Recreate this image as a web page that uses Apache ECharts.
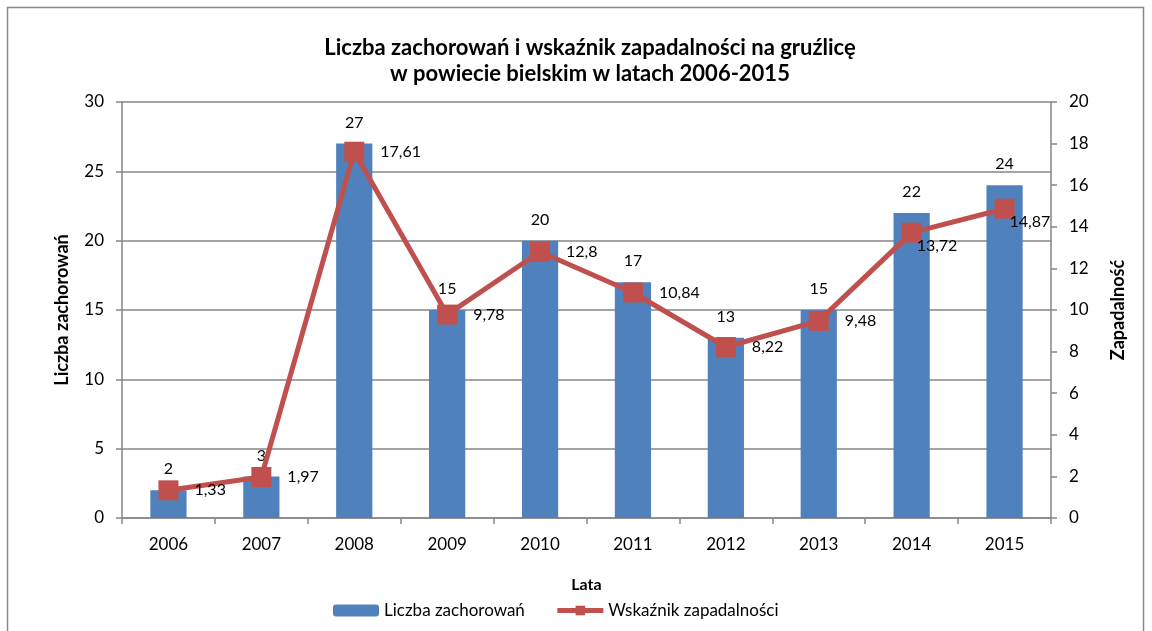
<!DOCTYPE html>
<html>
<head>
<meta charset="utf-8">
<script src="https://cdn.jsdelivr.net/npm/echarts@6/dist/echarts.min.js"></script>
<style>
  html, body { margin: 0; padding: 0; background: #fff; }
  #chart { width: 1152px; height: 631px; }
</style>
</head>
<body>
<div id="chart"></div>
<script>
var years = ['2006', '2007', '2008', '2009', '2010', '2011', '2012', '2013', '2014', '2015'];
var cases = [2, 3, 27, 15, 20, 17, 13, 15, 22, 24];
var incidence = [1.33, 1.97, 17.61, 9.78, 12.8, 10.84, 8.22, 9.48, 13.72, 14.87];

var font = 'Lato';
var grey = '#868686';
var chart = echarts.init(document.getElementById('chart'));

// last two labels sit lower, under the marker as in the original
var lineData = incidence.map(function (v, i) {
  var d = {value: v};
  if (i >= 8) d.label = {offset: [-21, 13]};
  return d;
});

var option = {
  textStyle: {fontFamily: font},
  graphic: [{
    type: 'rect',
    shape: {x: 7.5, y: 7.5, width: 1136, height: 640},
    style: {fill: 'none', stroke: '#898989', lineWidth: 1.5}
  }],
  title: {
    text: 'Liczba zachorowań i wskaźnik zapadalności na gruźlicę\nw powiecie bielskim w latach 2006-2015',
    left: 585,
    textAlign: 'center',
    top: 30,
    textStyle: {fontFamily: font, fontSize: 22, fontWeight: 'bold', lineHeight: 26, color: '#000'}
  },
  legend: {
    bottom: 7,
    left: 328,
    itemGap: 30,
    itemWidth: 46,
    itemHeight: 12,
    textStyle: {fontFamily: font, fontSize: 17, color: '#000'},
    data: [
      {name: 'Liczba zachorowań'},
      {name: 'Wskaźnik zapadalności', lineStyle: {width: 5}}
    ]
  },
  grid: {left: 122, right: 101, top: 102, bottom: 113},
  xAxis: {
    type: 'category',
    data: years,
    name: 'Lata',
    nameLocation: 'middle',
    nameGap: 59,
    nameTextStyle: {fontFamily: font, fontSize: 16, fontWeight: 'bold', color: '#000'},
    axisLine: {lineStyle: {color: grey, width: 1.5}},
    axisTick: {show: true, length: 6, lineStyle: {color: grey, width: 1.5}},
    axisLabel: {fontFamily: font, fontSize: 17, color: '#000', margin: 18}
  },
  yAxis: [{
    type: 'value',
    min: 0, max: 30, interval: 5,
    name: 'Liczba zachorowań',
    nameLocation: 'middle',
    nameRotate: 90,
    nameGap: 51,
    nameTextStyle: {fontFamily: font, fontSize: 18, fontWeight: 'bold', color: '#000'},
    axisLine: {show: true, lineStyle: {color: grey, width: 1.5}},
    axisTick: {show: true, length: 6, lineStyle: {color: grey, width: 1.5}},
    axisLabel: {fontFamily: font, fontSize: 17, color: '#000', margin: 18},
    splitLine: {lineStyle: {color: grey, width: 1.5}}
  }, {
    type: 'value',
    min: 0, max: 20, interval: 2,
    name: 'Zapadalność',
    nameLocation: 'middle',
    nameRotate: 90,
    nameGap: 58,
    nameTextStyle: {fontFamily: font, fontSize: 18, fontWeight: 'bold', color: '#000'},
    axisLine: {show: true, lineStyle: {color: grey, width: 1.5}},
    axisTick: {show: true, length: 6, lineStyle: {color: grey, width: 1.5}},
    axisLabel: {fontFamily: font, fontSize: 17, color: '#000', margin: 18},
    splitLine: {show: false}
  }],
  series: [{
    name: 'Liczba zachorowań',
    type: 'bar',
    data: cases,
    barWidth: '39%',
    itemStyle: {color: '#4F81BD'},
    label: {show: true, position: 'top', distance: 13, fontFamily: font, fontSize: 16, color: '#000'}
  }, {
    name: 'Wskaźnik zapadalności',
    type: 'line',
    yAxisIndex: 1,
    data: lineData,
    symbol: 'rect',
    symbolSize: 20,
    lineStyle: {color: '#C0504D', width: 5},
    itemStyle: {color: '#C0504D'},
    label: {
      show: true, position: 'right', distance: 16,
      fontFamily: font, fontSize: 16, color: '#000',
      formatter: function (p) { return String(p.value).replace('.', ','); }
    },
    z: 5
  }]
};
chart.setOption(option);
</script>
</body>
</html>
